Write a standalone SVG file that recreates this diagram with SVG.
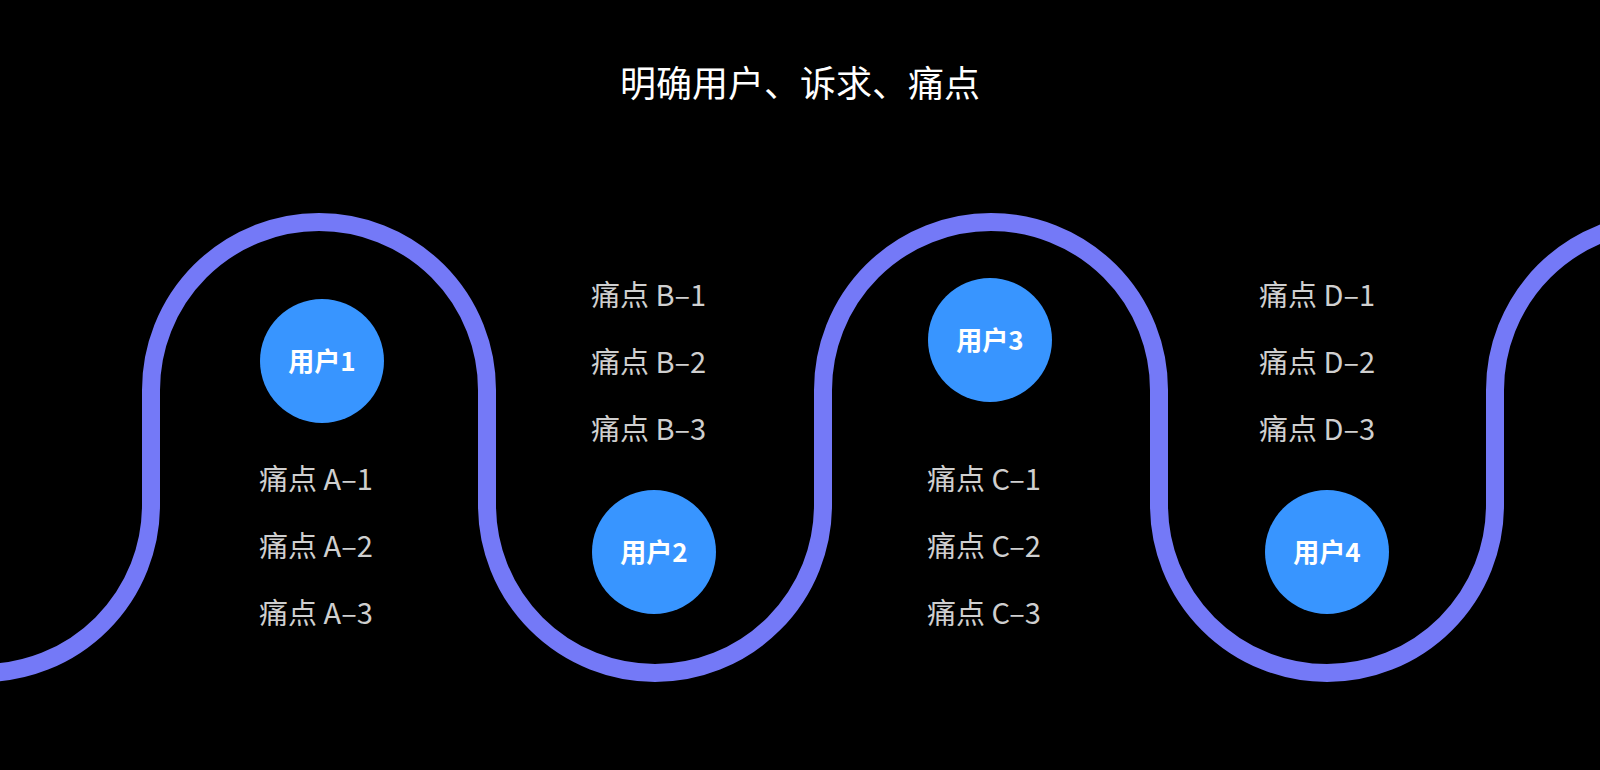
<svg xmlns="http://www.w3.org/2000/svg" width="1600" height="770" viewBox="0 0 1600 770">
<style>
.t{font-family:"Noto Sans CJK SC","Liberation Sans",sans-serif}
.p{fill:#cfcfcf;font-size:29px}
.u{fill:#fff;font-size:26px;font-weight:bold;text-anchor:middle}
.c{fill:#3895ff}
</style>
<rect width="1600" height="770" fill="#000"/>
<text class="t" x="800" y="97" fill="#fff" font-size="36" text-anchor="middle">明确用户、诉求、痛点</text>
<g id="connectors">
<path d="M -17 673 A 168 168 0 0 0 151 505 L 151 390 A 168 168 0 0 1 487 390 L 487 505 A 168 168 0 0 0 823 505 L 823 390 A 168 168 0 0 1 1159 390 L 1159 505 A 168 168 0 0 0 1495 505 L 1495 390 A 168 168 0 0 1 1663 222" fill="none" stroke="#7479f7" stroke-width="18"/>
</g>
<g id="user1"><circle class="c" cx="322" cy="361" r="62"/><text class="t u" x="322" y="371">用户1</text></g>
<g id="user2"><circle class="c" cx="654" cy="552" r="62"/><text class="t u" x="654" y="562">用户2</text></g>
<g id="user3"><circle class="c" cx="990" cy="340" r="62"/><text class="t u" x="990" y="350">用户3</text></g>
<g id="user4"><circle class="c" cx="1327" cy="552" r="62"/><text class="t u" x="1327" y="562">用户4</text></g>
<g id="painA"><text class="t p" x="259" y="490">痛点 A–1</text><text class="t p" x="259" y="557">痛点 A–2</text><text class="t p" x="259" y="624">痛点 A–3</text></g>
<g id="painB"><text class="t p" x="591" y="306">痛点 B–1</text><text class="t p" x="591" y="373">痛点 B–2</text><text class="t p" x="591" y="440">痛点 B–3</text></g>
<g id="painC"><text class="t p" x="927" y="490">痛点 C–1</text><text class="t p" x="927" y="557">痛点 C–2</text><text class="t p" x="927" y="624">痛点 C–3</text></g>
<g id="painD"><text class="t p" x="1259" y="306">痛点 D–1</text><text class="t p" x="1259" y="373">痛点 D–2</text><text class="t p" x="1259" y="440">痛点 D–3</text></g>
</svg>
